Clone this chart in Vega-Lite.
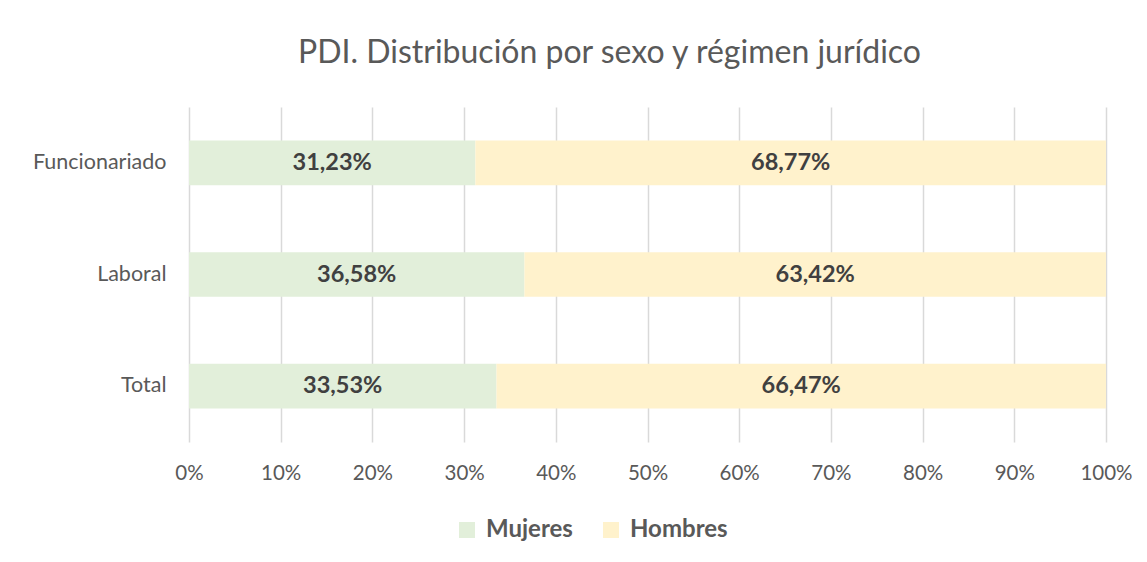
{
  "$schema": "https://vega.github.io/schema/vega-lite/v6.json",
  "width": 917,
  "height": 335,
  "autosize": {"type": "none"},
  "padding": {"left": 189, "top": 107, "right": 41, "bottom": 120},
  "background": "white",
  "title": {
    "text": "PDI. Distribución por sexo y régimen jurídico",
    "font": "Lato",
    "fontSize": 32,
    "fontWeight": "normal",
    "color": "#595959",
    "anchor": "middle",
    "dx": -38,
    "offset": 37
  },
  "data": {
    "values": [
      {"cat": "Funcionariado", "sexo": "Mujeres", "ord": 1, "pct": 0.3123},
      {"cat": "Funcionariado", "sexo": "Hombres", "ord": 2, "pct": 0.6877},
      {"cat": "Laboral", "sexo": "Mujeres", "ord": 1, "pct": 0.3658},
      {"cat": "Laboral", "sexo": "Hombres", "ord": 2, "pct": 0.6342},
      {"cat": "Total", "sexo": "Mujeres", "ord": 1, "pct": 0.3353},
      {"cat": "Total", "sexo": "Hombres", "ord": 2, "pct": 0.6647}
    ]
  },
  "encoding": {
    "y": {
      "field": "cat",
      "type": "nominal",
      "sort": ["Funcionariado", "Laboral", "Total"],
      "scale": {"paddingInner": 0.6, "paddingOuter": 0.3},
      "axis": {
        "title": null,
        "domain": false,
        "ticks": false,
        "labelPadding": 23,
        "labelFont": "Lato",
        "labelFontSize": 21.5,
        "labelColor": "#595959"
      }
    },
    "x": {
      "field": "pct",
      "type": "quantitative",
      "stack": "zero",
      "scale": {"domain": [0, 1], "nice": false},
      "axis": {
        "title": null,
        "format": ".0%",
        "values": [0, 0.1, 0.2, 0.3, 0.4, 0.5, 0.6, 0.7, 0.8, 0.9, 1],
        "labelOverlap": false,
        "labelFlush": false,
        "domain": false,
        "ticks": false,
        "grid": true,
        "gridColor": "#D9D9D9",
        "gridWidth": 1.5,
        "labelPadding": 21,
        "labelFont": "Lato",
        "labelFontSize": 20.5,
        "labelColor": "#595959"
      }
    },
    "order": {"field": "ord"}
  },
  "layer": [
    {
      "mark": {"type": "bar"},
      "encoding": {
        "color": {
          "field": "sexo",
          "type": "nominal",
          "scale": {"domain": ["Mujeres", "Hombres"], "range": ["#E2EFDA", "#FFF2CC"]},
          "legend": {
            "title": null,
            "orient": "none",
            "direction": "horizontal",
            "legendX": 266,
            "legendY": 411,
            "symbolType": "square",
            "symbolSize": 256,
            "symbolStrokeWidth": 0,
            "labelFont": "Lato",
            "labelFontSize": 24,
            "labelFontWeight": "bold",
            "labelColor": "#595959",
            "labelOffset": 7,
            "columnPadding": 26
          }
        }
      }
    },
    {
      "mark": {"type": "text", "font": "Lato", "fontSize": 23.5, "fontWeight": "bold", "color": "#404040"},
      "encoding": {
        "x": {"field": "pct", "type": "quantitative", "stack": "zero", "bandPosition": 0.5},
        "text": {"field": "pct", "type": "quantitative", "format": ".2%"}
      }
    }
  ],
  "config": {
    "view": {"stroke": null},
    "locale": {"number": {"decimal": ",", "thousands": ".", "grouping": [3], "currency": ["", " €"]}}
  }
}
